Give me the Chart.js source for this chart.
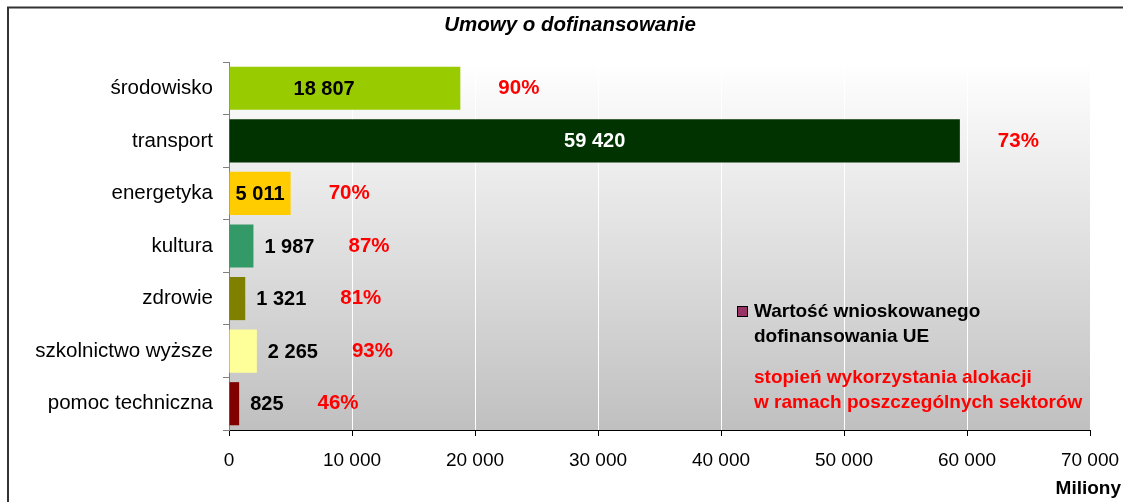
<!DOCTYPE html>
<html>
<head>
<meta charset="utf-8">
<script src="https://cdn.jsdelivr.net/npm/chart.js@4.4.0/dist/chart.umd.min.js"></script>
<style>
  html, body { margin: 0; padding: 0; background: #fff; overflow: hidden; }
  #wrap { width: 1123px; height: 502px; position: relative; }
</style>
</head>
<body>
<div id="wrap"><canvas id="chart" width="1123" height="502"></canvas></div>
<script>
// data
const categories = ['środowisko', 'transport', 'energetyka', 'kultura', 'zdrowie', 'szkolnictwo wyższe', 'pomoc techniczna'];
const values = [18807, 59420, 5011, 1987, 1321, 2265, 825];
const percents = ['90%', '73%', '70%', '87%', '81%', '93%', '46%'];
const barColors = ['#99cc00', '#003300', '#ffcc00', '#339966', '#808000', '#ffff99', '#800000'];
const xMin = 0, xMax = 70000, xStep = 10000;
const seriesLabel = 'Wartość wnioskowanego dofinansowania UE';
const legendColor = '#993366';
const titleText = 'Umowy o dofinansowanie';
const unitText = 'Miliony';
const noteLines = ['stopień wykorzystania alokacji', 'w ramach poszczególnych sektorów'];

const FONT = "'Liberation Sans', Arial, sans-serif";

// 18807 -> "18 807"
function fmt(v) {
  return String(v).replace(/\B(?=(\d{3})+(?!\d))/g, ' ');
}

function isDark(hex) {
  const n = parseInt(hex.slice(1), 16);
  const r = n >> 16, g = (n >> 8) & 255, b = n & 255;
  return (0.299*r + 0.587*g + 0.114*b) < 90;
}

// background, frame, title, labels, legend
const decor = {
  id: 'decor',
  beforeDraw(chart) {
    const {ctx, chartArea: a} = chart;
    ctx.save();
    const g = ctx.createLinearGradient(0, a.top, 0, a.bottom);
    g.addColorStop(0, '#ffffff');
    g.addColorStop(1, '#c0c0c0');
    ctx.fillStyle = g;
    ctx.fillRect(a.left, a.top, a.right - a.left, a.bottom - a.top);
    ctx.restore();
  },
  afterDatasetsDraw(chart) {
    const ctx = chart.ctx;
    const meta = chart.getDatasetMeta(0);
    ctx.save();
    ctx.font = 'bold 20px ' + FONT;
    ctx.textBaseline = 'middle';
    meta.data.forEach((bar, i) => {
      const txt = fmt(values[i]);
      const w = bar.x - bar.base;
      const tw = ctx.measureText(txt).width;
      let pctX;
      if (w >= 50) {
        ctx.textAlign = 'center';
        ctx.fillStyle = isDark(barColors[i]) ? '#ffffff' : '#000000';
        // excel puts the wide-bar label a bit left of centre
        const cx = w > 200 && w < 400 ? bar.base + w * 0.41 : (bar.x + bar.base) / 2;
        ctx.fillText(txt, cx, bar.y + 1);
        pctX = bar.x + 38;
      } else {
        ctx.textAlign = 'left';
        ctx.fillStyle = '#000000';
        ctx.fillText(txt, bar.x + 11, bar.y + 1);
        pctX = bar.x + 11 + tw + 34;
      }
      ctx.textAlign = 'left';
      ctx.fillStyle = '#ff0000';
      ctx.font = 'bold 20.5px ' + FONT;
      ctx.fillText(percents[i], pctX, bar.y);
      ctx.font = 'bold 20px ' + FONT;
    });
    ctx.restore();
  },
  afterDraw(chart) {
    const ctx = chart.ctx;
    ctx.save();
    // frame
    ctx.strokeStyle = '#333333';
    ctx.lineWidth = 2;
    ctx.beginPath();
    ctx.moveTo(8, 502);
    ctx.lineTo(8, 7.5);
    ctx.lineTo(1123, 7.5);
    ctx.stroke();
    // title
    ctx.fillStyle = '#000';
    ctx.font = 'italic bold 20.5px ' + FONT;
    ctx.textAlign = 'center';
    ctx.textBaseline = 'middle';
    ctx.fillText(titleText, 570, 25);
    // unit
    ctx.font = 'bold 19px ' + FONT;
    ctx.textAlign = 'right';
    ctx.textBaseline = 'alphabetic';
    ctx.fillText(unitText, 1121, 494);
    // legend
    ctx.fillStyle = legendColor;
    ctx.fillRect(737, 306, 11, 11);
    ctx.strokeStyle = '#000';
    ctx.lineWidth = 1;
    ctx.strokeRect(737.5, 306.5, 10, 10);
    ctx.fillStyle = '#000';
    ctx.textAlign = 'left';
    const words = seriesLabel.split(' ');
    ctx.fillText(words.slice(0, 2).join(' '), 754, 317);
    ctx.fillText(words.slice(2).join(' '), 754, 342);
    ctx.fillStyle = '#ff0000';
    ctx.fillText(noteLines[0], 754, 383);
    ctx.fillText(noteLines[1], 754, 408);
    ctx.restore();
  }
};

new Chart(document.getElementById('chart').getContext('2d'), {
  type: 'bar',
  data: {
    labels: categories,
    datasets: [{
      label: seriesLabel,
      data: values,
      backgroundColor: barColors,
      borderWidth: 0,
      barPercentage: 0.82,
      categoryPercentage: 1
    }]
  },
  options: {
    indexAxis: 'y',
    responsive: false,
    animation: false,
    devicePixelRatio: 1,
    layout: { padding: { top: 62, right: 33, left: 0, bottom: 0 } },
    plugins: {
      legend: { display: false },
      title: { display: false },
      tooltip: { enabled: false }
    },
    scales: {
      x: {
        min: xMin,
        max: xMax,
        afterFit(scale) {
          scale.height = 72;
          scale.paddingLeft = 0;
          scale.paddingRight = 0;
        },
        ticks: {
          stepSize: xStep,
          color: '#000',
          font: { family: FONT, size: 19 },
          padding: 13,
          maxRotation: 0,
          callback: v => fmt(v)
        },
        grid: { color: '#ffffff', tickColor: '#000000', tickLength: 6, lineWidth: 1 },
        border: { color: '#000000', width: 1 }
      },
      y: {
        afterFit(scale) { scale.width = 229; },
        ticks: {
          color: '#000',
          font: { family: FONT, size: 20.5 },
          padding: 10
        },
        grid: { offset: true, drawOnChartArea: false, color: '#808080', tickLength: 6 },
        border: { color: '#808080', width: 1 }
      }
    }
  },
  plugins: [decor]
});
</script>
</body>
</html>
